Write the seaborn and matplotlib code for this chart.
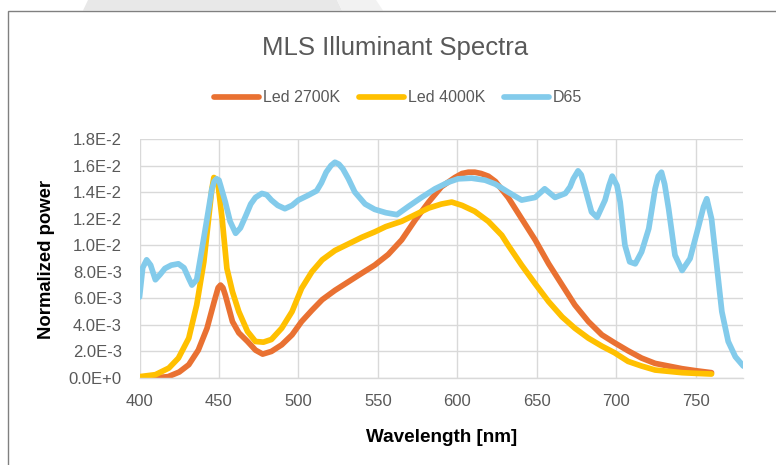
import numpy as np
import pandas as pd
import matplotlib
matplotlib.use("Agg")
import matplotlib.pyplot as plt
from matplotlib.patches import Rectangle, Polygon
from matplotlib.ticker import FuncFormatter, MultipleLocator
import seaborn as sns

# ---- spectra (power in units of 1e-3) ----
wl_2700k = [400, 410, 418, 425, 431, 437, 442.5, 447, 449.5, 451, 452.5, 454, 458.5, 462.5,
            468, 473, 477.5, 483, 489.5, 496, 502, 508.5, 515, 523, 531.5, 540, 548, 556.5,
            565, 573.5, 582, 590, 598.5, 603, 607, 611, 615, 619.5, 624, 632, 640.5, 649,
            657.5, 666, 674, 682.5, 691, 699, 707.5, 716, 724.5, 733, 741.5, 750, 760]
pw_2700k = [0.0, 0.02, 0.1, 0.45, 1.0, 2.1, 3.75, 5.75, 6.8, 7.0, 6.8, 6.25, 4.25, 3.4,
            2.75, 2.1, 1.8, 2.0, 2.5, 3.25, 4.25, 5.1, 5.9, 6.6, 7.25, 7.9, 8.5, 9.3,
            10.4, 11.9, 13.25, 14.4, 15.1, 15.4, 15.5, 15.5, 15.4, 15.2, 14.8, 13.6, 12.0, 10.4,
            8.6, 7.0, 5.5, 4.25, 3.25, 2.65, 2.05, 1.5, 1.1, 0.9, 0.7, 0.55, 0.4]

wl_4000k = [400, 410, 418.5, 424.5, 431, 436, 440.5, 443.5, 445.5, 446.8, 448, 449.5, 452,
            455, 458.5, 462.5, 468, 473, 478, 483, 489.5, 496, 502, 508.5, 515, 523, 531.5,
            540, 548, 555, 565, 573.5, 582, 590, 596.5, 603, 611, 619.5, 628, 632, 640.5,
            649, 657.5, 666, 674, 682.5, 691, 699, 707.5, 716, 724.5, 733, 741.5, 750, 760]
pw_4000k = [0.1, 0.25, 0.75, 1.5, 3.0, 5.5, 8.75, 12.0, 14.2, 15.1, 15.0, 14.5, 12.0,
            8.25, 6.5, 5.0, 3.5, 2.75, 2.7, 2.9, 3.75, 5.0, 6.75, 8.0, 8.9, 9.6, 10.1,
            10.6, 11.0, 11.4, 11.8, 12.3, 12.8, 13.1, 13.25, 13.0, 12.55, 11.8, 10.75, 10.0, 8.5,
            7.1, 5.75, 4.6, 3.75, 3.0, 2.4, 1.9, 1.25, 0.9, 0.6, 0.5, 0.4, 0.35, 0.3]

wl_d65 = [400, 402, 404.5, 407, 410, 413, 416, 420, 424.5, 428, 431, 433, 436, 439, 442.5,
          445.5, 447, 448.5, 450, 451, 454, 457, 460.5, 463.5, 467, 470, 473, 477, 480, 483,
          487, 491.5, 496, 500, 506, 511.5, 514.5, 517.5, 520.5, 523, 525.5, 528, 531.5,
          535.5, 542, 548, 555, 562, 569, 577.5, 586, 594.5, 600.5, 609, 617.5, 624,
          632, 640.5, 649, 655, 661.5, 668, 671, 673, 676, 678, 680.5, 684.5, 688, 693, 695.5,
          697.5, 700.5, 702.5, 705.5, 708.5, 712, 716, 720.5, 724.5, 726.5, 728.5, 730.5, 733,
          737, 741.5, 746.5, 752, 755, 757, 760, 763.5, 766.5, 770.5, 775, 780]
pw_d65 = [6.1, 8.3, 8.9, 8.5, 7.4, 7.8, 8.25, 8.5, 8.6, 8.3, 7.5, 7.0, 7.4, 9.5, 12.0,
          14.2, 14.8, 15.0, 14.9, 14.5, 13.25, 11.8, 10.9, 11.3, 12.25, 13.1, 13.6, 13.9, 13.8, 13.4,
          13.0, 12.75, 13.0, 13.4, 13.75, 14.1, 14.7, 15.5, 16.0, 16.25, 16.1, 15.75, 15.0,
          14.0, 13.1, 12.7, 12.45, 12.3, 12.9, 13.6, 14.25, 14.75, 15.0, 15.05, 14.9, 14.6,
          14.0, 13.4, 13.6, 14.25, 13.6, 13.9, 14.4, 15.0, 15.6, 15.3, 14.25, 12.5, 12.1, 13.4, 14.5,
          15.2, 14.5, 13.25, 10.0, 8.75, 8.6, 9.5, 11.25, 14.25, 15.2, 15.5, 14.6, 12.75,
          9.25, 8.1, 9.0, 11.5, 12.9, 13.5, 12.0, 8.25, 5.0, 2.75, 1.6, 0.9]

series_names = ["Led 2700K", "Led 4000K", "D65"]
series_colors = ["#E97132", "#FFC000", "#83CBEB"]
x_ticks = [400, 450, 500, 550, 600, 650, 700, 750]

frames = []
for name, wl, pw in zip(series_names, [wl_2700k, wl_4000k, wl_d65],
                        [pw_2700k, pw_4000k, pw_d65]):
    frames.append(pd.DataFrame({"Wavelength": wl,
                                "Power": np.asarray(pw) * 1e-3,
                                "Series": name}))
df = pd.concat(frames, ignore_index=True)

sns.set_theme(style="white")
plt.rcParams["font.family"] = ["Liberation Sans", "DejaVu Sans"]
plt.rcParams["lines.solid_capstyle"] = "round"
plt.rcParams["lines.solid_joinstyle"] = "round"

W, H = 776, 465
fig = plt.figure(figsize=(W / 100, H / 100), dpi=100)


def fx(px):
    return px / W


def fy(py):
    return 1 - py / H


# light tab shapes above the chart frame
fig.patches.append(Polygon([(fx(83), fy(10.5)), (fx(88), fy(0)), (fx(337), fy(0)), (fx(342), fy(10.5))],
                           closed=True, transform=fig.transFigure, facecolor="#e8e8e8",
                           edgecolor="none", zorder=0))
fig.patches.append(Polygon([(fx(337), fy(0)), (fx(376), fy(0)), (fx(383), fy(10.5)), (fx(342), fy(10.5))],
                           closed=True, transform=fig.transFigure, facecolor="#f2f2f2",
                           edgecolor="none", zorder=0))
# chart frame
fig.patches.append(Rectangle((fx(7.7), fy(480)), 1.2, (480 - 11) / H,
                             transform=fig.transFigure, fill=False,
                             edgecolor="#808080", linewidth=1.0, zorder=1))

ax = fig.add_axes([fx(139.5), fy(378), (743.3 - 139.5) / W, (378 - 139) / H])

LW = 4.1
sns.lineplot(data=df, x="Wavelength", y="Power", hue="Series",
             hue_order=series_names, palette=dict(zip(series_names, series_colors)),
             linewidth=LW, errorbar=None, ax=ax)

ax.set_xlim(400, 780)
ax.set_ylim(0, 0.018)
ax.set_xticks(x_ticks)
ax.yaxis.set_major_locator(MultipleLocator(0.002))


def sci_label(v, pos):
    if abs(v) < 1e-12:
        return "0.0E+0"
    e = int(np.floor(np.log10(abs(v)) + 1e-9))
    m = v / 10 ** e
    return f"{m:.1f}E{e:+d}" if e >= 0 else f"{m:.1f}E{e}"


ax.yaxis.set_major_formatter(FuncFormatter(sci_label))
ax.grid(True, color="#D9D9D9", linewidth=1.0)
ax.set_axisbelow(True)
for s in ["top", "right", "left"]:
    ax.spines[s].set_visible(False)
ax.spines["bottom"].set_color("#D9D9D9")
ax.spines["bottom"].set_linewidth(1.0)
ax.tick_params(axis="both", length=0, labelsize=12, labelcolor="#595959")
ax.tick_params(axis="y", pad=12.8)
ax.tick_params(axis="x", pad=11.5)
ax.set_xlabel("")
ax.set_ylabel("")

# axis titles
fig.text(fx(441.4), fy(442), "Wavelength [nm]", ha="center", va="baseline",
         fontsize=13.6, fontweight="bold", color="black")
fig.text(fx(47), fy(259), "Normalized power", ha="center", va="center", rotation=90,
         fontsize=13.3, fontweight="bold", color="black")

# chart title
fig.text(fx(395.5), fy(55), "MLS Illuminant Spectra", ha="center", va="baseline",
         fontsize=18.5, color="#595959")

# legend across the top
handles, labels = ax.get_legend_handles_labels()
ax.get_legend().remove()
leg = ax.legend(handles, labels, loc="center", bbox_to_anchor=(fx(398), fy(98)),
                bbox_transform=fig.transFigure, ncol=3, frameon=False, fontsize=11.5,
                handlelength=2.8, handletextpad=0.25, columnspacing=1.2,
                borderpad=0, borderaxespad=0)
for t in leg.get_texts():
    t.set_color("#595959")
for h in leg.legend_handles:
    h.set_linewidth(LW)
    h.set_solid_capstyle("round")

fig.savefig("out.png", dpi=100)
